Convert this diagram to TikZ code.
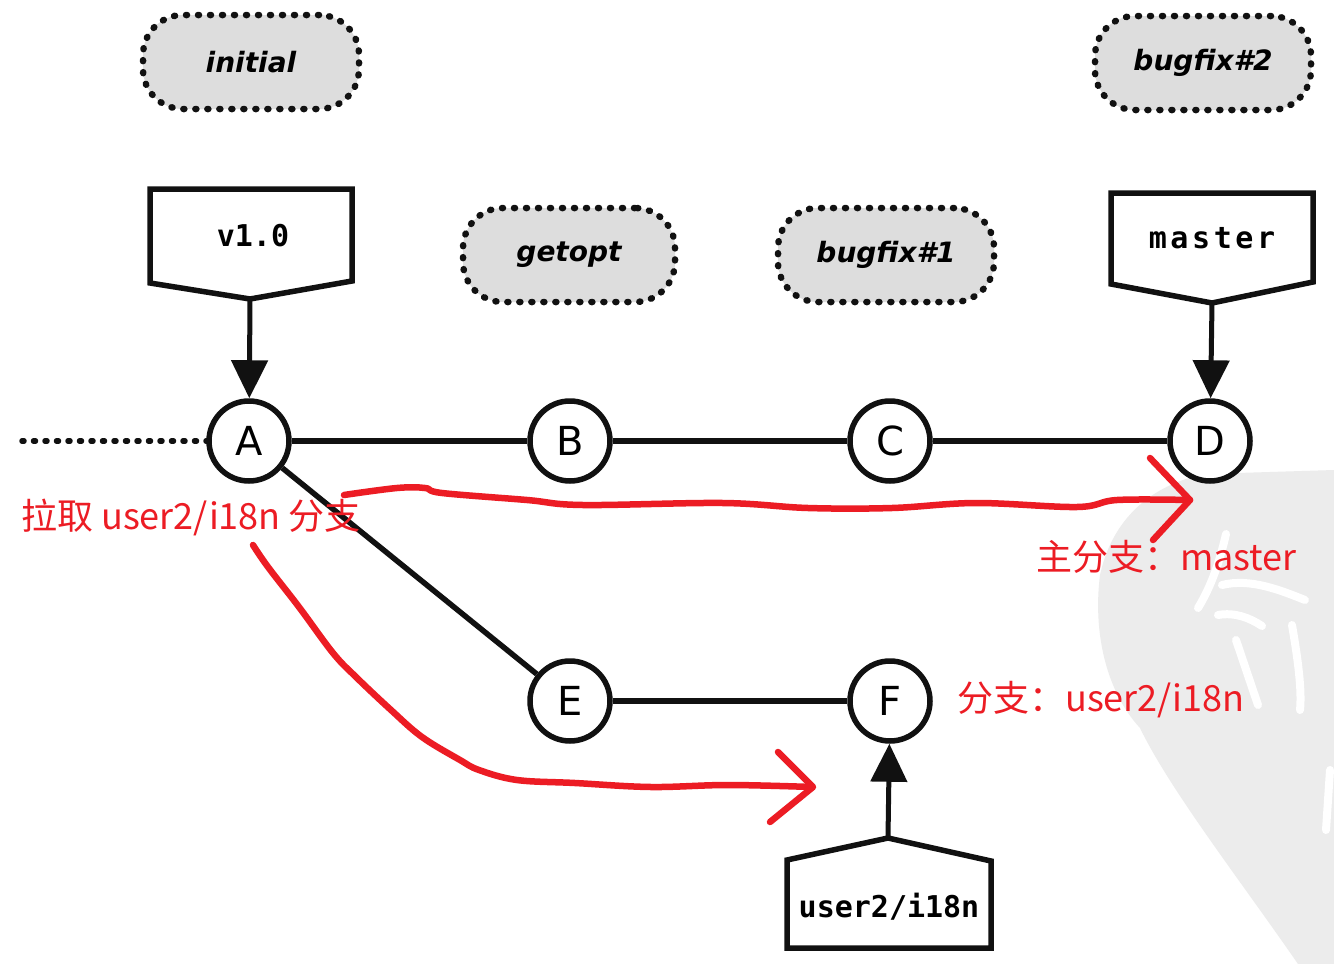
\documentclass[tikz,border=0pt]{standalone}
\usepackage{fontspec}
\setmainfont{DejaVu Sans}
\newfontfamily\labelmono{DejaVu Sans Mono}[BoldFont={DejaVu Sans Mono Bold}]
\newfontfamily\cjkfont{Noto Sans CJK SC}
\usetikzlibrary{arrows.meta}
\definecolor{ink}{HTML}{111111}
\definecolor{annot}{HTML}{EC1C24}
\definecolor{tagfill}{HTML}{DDDDDD}
\definecolor{wmark}{HTML}{ECECEC}

\begin{document}
\begin{tikzpicture}[x=1pt,y=-1pt,
  commit/.style={circle, draw=ink, line width=5.5pt, fill=white, minimum size=80pt,
    inner sep=0pt, font=\fontsize{40}{40}\selectfont},
  tagnode/.style={rounded corners=40pt, draw=ink, fill=tagfill, line width=6.5pt,
    dash pattern=on 1pt off 11pt, line cap=round, minimum width=216pt,
    minimum height=94pt, inner sep=0pt, font=\fontsize{28}{28}\selectfont\bfseries\itshape},
  branchbox/.style={draw=ink, line width=5.5pt, fill=white, line join=miter},
  branchtext/.style={inner sep=0pt, font=\labelmono\bfseries\fontsize{30}{30}\selectfont},
  edge/.style={draw=ink, line width=5.5pt},
  dotline/.style={draw=ink, line width=5.5pt, dash pattern=on 2pt off 9.5pt, line cap=round},
  pointer/.style={draw=ink, line width=5pt, -{Triangle[width=36pt,length=38pt]}},
  annot/.style={draw=annot, line width=6.5pt, line cap=round, line join=round},
  annottext/.style={text=annot, inner sep=0pt, anchor=west, font=\cjkfont\fontsize{36}{36}\selectfont},
  seal/.style={draw=white, line width=8pt, line cap=round, line join=round}
]
\fill[white] (0,0) rectangle (1334,964);
\useasboundingbox (0,0) rectangle (1334,964);

% faint seal watermark in the lower right corner
\fill[wmark] (1334,470) -- (1205,474) .. controls (1150,485) and (1112,520) .. (1100,575)
  .. controls (1093,630) and (1105,690) .. (1140,728)
  .. controls (1170,790) and (1240,880) .. (1298,964) -- (1334,964) -- cycle;
\draw[seal] (1226,534) .. controls (1220,560) and (1212,585) .. (1198,608);
\draw[seal] (1222,585) .. controls (1250,578) and (1280,590) .. (1305,600);
\draw[seal] (1218,615) .. controls (1235,612) and (1250,618) .. (1262,626);
\draw[seal] (1236,640) -- (1258,705);
\draw[seal] (1292,625) .. controls (1298,660) and (1302,690) .. (1300,710);
\draw[seal] (1330,770) -- (1326,830);

% tags (dotted rounded boxes)
\node[tagnode] (initial) at (251,62) {initial};
\node[tagnode] (bugfixtwo) at (1203,63) {bugfix\#2};
\node[tagnode, minimum width=212pt] (getopt) at (569,255) {getopt};
\node[tagnode] (bugfixone) at (886,255) {bugfix\#1};

% commits
\node[commit] (A) at (249,441) {A};
\node[commit] (B) at (570,441) {B};
\node[commit] (C) at (890,441) {C};
\node[commit] (D) at (1210,441) {D};
\node[commit] (E) at (570,701) {E};
\node[commit] (F) at (890,701) {F};

\coordinate (history) at (22,441);
\draw[dotline] (history) -- (A);
\draw[edge] (A) -- (B);
\draw[edge] (B) -- (C);
\draw[edge] (C) -- (D);
\draw[edge] (A) -- (E);
\draw[edge] (E) -- (F);

% branch labels
\draw[branchbox] (150,189) -- (352,189) -- (352,281) -- (250,299) -- (150,283) -- cycle;
\node[branchtext] (v10) at (253,236) {v1.0};
\coordinate (v10tip) at (250,299);
\draw[pointer] (v10tip) -- (A);

\draw[branchbox] (1111,193) -- (1313,193) -- (1313,282) -- (1212,303) -- (1111,284) -- cycle;
\node[branchtext] (master) at (1212,238) {\addfontfeature{LetterSpace=12}master};
\coordinate (mastertip) at (1212,303);
\draw[pointer] (mastertip) -- (D);

\draw[branchbox] (888,838) -- (991,861) -- (991,948) -- (787,948) -- (787,860) -- cycle;
\node[branchtext] (i18n) at (889,907) {user2/i18n};
\coordinate (i18ntip) at (888,838);
\draw[pointer] (i18ntip) -- (F);

% hand-drawn notes
\draw[annot] plot[smooth, tension=0.6] coordinates {(344,495) (397,488) (425,488) (442,493)
  (527,500) (583,505) (723,503) (808,508) (892,508) (976,503) (1077,507) (1117,500) (1190,500)};
\draw[annot] (1150,458) -- (1190,500) -- (1153,540);

\draw[annot] plot[smooth, tension=0.6] coordinates {(253,545) (268,567) (299,607) (333,653)
  (356,677) (391,710) (422,737) (460,760) (479,770) (517,780) (575,783) (651,787) (728,785) (812,787)};
\draw[annot] (778,752) -- (813,787) -- (770,822);

\node[annottext] (pullnote) at (21,517) {拉取 user2/i18n 分支};
\node[annottext] (masternote) at (1036,557) {主分支：master};
\node[annottext] (i18nnote) at (957,700) {分支：user2/i18n};
\end{tikzpicture}
\end{document}
